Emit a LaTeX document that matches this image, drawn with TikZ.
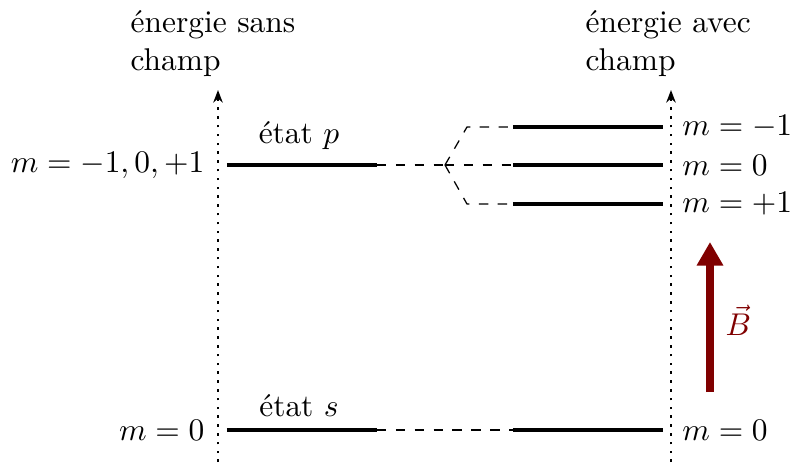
\documentclass[tikz,border=0pt]{standalone}
\usepackage{amsmath}
\usepackage{xcolor}
\usepackage{tikz}
\usetikzlibrary{arrows.meta,positioning}
\definecolor{fieldred}{RGB}{128,0,0}
\tikzset{
  axis/.style={dotted, thick, -{Stealth[length=4pt, width=3pt]}},
  level/.style={line width=1.3pt},
  link/.style={dashed, thin},
  fieldarrow/.style={line width=2.4pt, draw=fieldred, -{Triangle[length=7.5pt, width=8pt]}},
  axislabel/.style={anchor=north west, align=left, inner sep=0pt},
  mlabel/.style={inner sep=0pt},
}

\begin{document}
\begin{tikzpicture}[x=0.318pt, y=-0.318pt]
  \useasboundingbox (0,0) rectangle (790,464);

  % Axes
  \coordinate (axLb) at (218,462);
  \coordinate (axLt) at (218,90);
  \coordinate (axRb) at (671,462);
  \coordinate (axRt) at (671,90);
  \draw[axis] (axLb) -- (axLt);
  \draw[axis] (axRb) -- (axRt);
  \node[axislabel] (enL) at (130,10) {énergie sans\\champ};
  \node[axislabel] (enR) at (585,10) {énergie avec\\champ};

  % Levels without field
  \coordinate (pLa) at (227,165);
  \coordinate (pLb) at (377,165);
  \coordinate (sLa) at (227,430);
  \coordinate (sLb) at (377,430);
  \draw[level] (pLa) -- (pLb);
  \draw[level] (sLa) -- (sLb);
  \node[anchor=base] (etp) at (299,143) {état $p$};
  \node[anchor=base] (ets) at (299,416) {état $s$};
  \node[mlabel, left=7pt of pLa] (mp) {$m=-1,0,+1$};
  \node[mlabel, left=7pt of sLa] (ms) {$m=0$};

  % Levels with field
  \coordinate (pRa1) at (513,127);
  \coordinate (pRb1) at (663,127);
  \coordinate (pRa0) at (513,165);
  \coordinate (pRb0) at (663,165);
  \coordinate (pRa2) at (513,204);
  \coordinate (pRb2) at (663,204);
  \coordinate (sRa) at (513,430);
  \coordinate (sRb) at (663,430);
  \draw[level] (pRa1) -- (pRb1);
  \draw[level] (pRa0) -- (pRb0);
  \draw[level] (pRa2) -- (pRb2);
  \draw[level] (sRa) -- (sRb);
  \node[mlabel, right=6pt of pRb1] (m1) {$m=-1$};
  \node[mlabel, right=6pt of pRb0] (m0) {$m=0$};
  \node[mlabel, right=6pt of pRb2] (m2) {$m=+1$};
  \node[mlabel, right=6pt of sRb] (msR) {$m=0$};

  % Dashed links
  \coordinate (split) at (445,165);
  \draw[link] (pLb) -- (split);
  \draw[link] (split) -- (467,127) -- (pRa1);
  \draw[link] (split) -- (pRa0);
  \draw[link] (split) -- (467,204) -- (pRa2);
  \draw[link] (sLb) -- (sRa);

  % Magnetic field
  \coordinate (Bb) at (710,392);
  \coordinate (Bt) at (710,242);
  \draw[fieldarrow] (Bb) -- (Bt);
  \node[text=fieldred, anchor=west, inner sep=0pt] (Blab) at (725,320) {$\vec{B}$};
\end{tikzpicture}
\end{document}
